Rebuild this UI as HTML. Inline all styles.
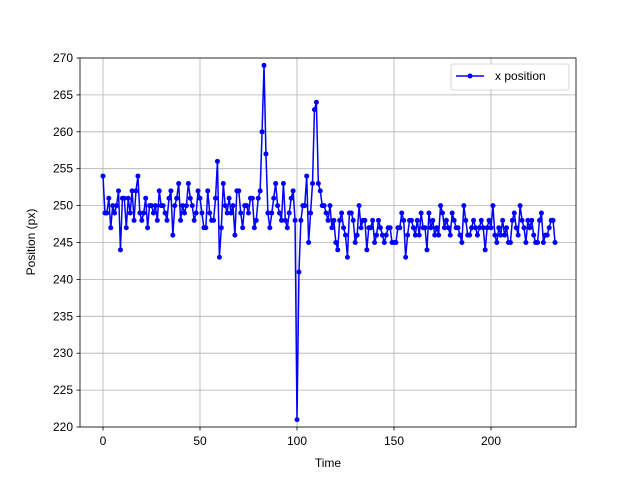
<!DOCTYPE html>
<html><head><meta charset="utf-8"><style>
body{margin:0;background:#fff;font-family:"Liberation Sans",sans-serif;}
svg text{font-family:"Liberation Sans",sans-serif;font-size:12px;fill:#000;}
</style></head><body>
<svg id="chart" width="640" height="480" xmlns="http://www.w3.org/2000/svg">
<rect width="640" height="480" fill="#fff"/>
<g id="grid"></g>
<g id="ticks"></g>
<polyline id="line" fill="none" stroke="#0000ff" stroke-width="1.5"/>
<g id="pts"></g>
<rect x="80" y="58" width="496" height="369" fill="none" stroke="#000" stroke-width="0.8"/>
<text x="328" y="467" text-anchor="middle">Time</text>
<text transform="translate(35,242) rotate(-90)" text-anchor="middle">Position (px)</text>
<g>
<rect x="451" y="64" width="118" height="26" rx="2" fill="#fff" stroke="#ccc" stroke-width="0.8"/>
<line x1="456" y1="76" x2="484" y2="76" stroke="#0000ff" stroke-width="1.5"/>
<circle cx="470" cy="76" r="2.5" fill="#0000ff"/>
<text x="495" y="80">x position</text>
</g>
</svg>
<script>
const xTicks=[0,50,100,150,200];
const yTicks=[220,225,230,235,240,245,250,255,260,265,270];
const values=[254,249,249,251,247,250,249,250,252,244,251,251,247,251,249,252,248,252,254,249,248,
249,251,247,250,250,249,250,248,252,250,250,249,248,251,252,246,250,251,253,248,250,
249,250,253,251,250,248,249,252,251,249,247,247,252,249,248,248,251,256,243,247,
253,250,249,251,249,250,246,252,252,249,247,250,250,249,251,251,247,248,251,252,
260,269,257,249,247,249,251,253,250,249,248,253,248,247,249,251,252,248,
221,241,248,250,250,254,245,249,253,263,264,253,252,250,250,249,248,250,247,248,245,244,248,249,247,246,243,249,249,248,245,246,250,247,248,248,244,247,247,248,245,246,248,247,246,245,246,247,247,245,245,
245,247,247,249,248,243,246,248,248,247,
246,248,246,249,247,247,244,249,247,248,
246,247,246,250,249,247,248,247,246,249,
248,247,247,246,245,250,248,246,246,247,
248,247,246,247,248,247,244,247,248,247,
250,246,245,247,246,248,246,247,245,245,
248,249,247,246,250,248,247,245,248,247,
248,246,245,245,248,249,245,246,246,247,
248,248,245];
const NS="http://www.w3.org/2000/svg";
const xs=t=>103+t*1.94;
const ys=v=>427-(v-220)*7.38;
const grid=document.getElementById('grid'),ticks=document.getElementById('ticks');
function mk(tag,attrs,parent){const e=document.createElementNS(NS,tag);for(const k in attrs)e.setAttribute(k,attrs[k]);parent.appendChild(e);return e;}
xTicks.forEach(t=>{const x=xs(t);
const g=mk('line',{x1:x,x2:x,y1:58,y2:427,stroke:'#b0b0b0','stroke-width':0.8},grid);


mk('line',{x1:x,x2:x,y1:427,y2:430.5,stroke:'#000','stroke-width':0.8},ticks);
const tx=mk('text',{x:x,y:445,'text-anchor':'middle'},ticks);tx.textContent=t;

});
yTicks.forEach(v=>{const y=ys(v);
const g=mk('line',{x1:80,x2:576,y1:y,y2:y,stroke:'#b0b0b0','stroke-width':0.8},grid);


mk('line',{x1:76.5,x2:80,y1:y,y2:y,stroke:'#000','stroke-width':0.8},ticks);
const tx=mk('text',{x:73,y:y+4,'text-anchor':'end'},ticks);tx.textContent=v;

});
document.getElementById('line').setAttribute('points',values.map((v,i)=>xs(i)+','+ys(v)).join(' '));
const pts=document.getElementById('pts');
values.forEach((v,i)=>{const c=mk('circle',{cx:xs(i),cy:ys(v),r:2.5,fill:'#0000ff'},pts);

});
</script>
</body></html>
